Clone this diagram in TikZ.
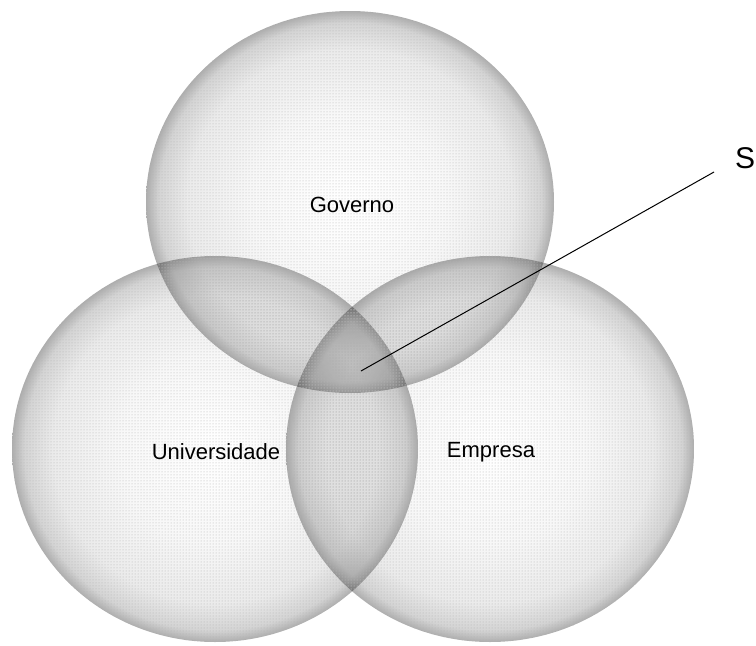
\documentclass[tikz,border=0pt]{standalone}
\usepackage{fontspec}
\setmainfont{Liberation Sans}
\usetikzlibrary{calc,patterns}
\pgfdeclareradialshading{stipple}{\pgfpoint{0bp}{0bp}}{color(0bp)=(white); color(12bp)=(black!3); color(20bp)=(black!8); color(23.5bp)=(black!17); color(25bp)=(black!32); color(50bp)=(black!32)}
\tikzset{
  sphere/.style={shading=stipple, blend mode=multiply},
  grain/.style={pattern=dots, pattern color=black!30},
  lab/.style={font=\fontsize{22}{26}\selectfont, inner sep=0pt}
}
\begin{document}
\begin{tikzpicture}[x=1pt,y=-1pt]
			%%%%% START %%%%%
			\useasboundingbox (0, 0) rectangle (756, 646);
			
			\shade[sphere] (350, 202) ellipse [x radius=204, y radius=191];
			\shade[sphere] (215, 449) ellipse [x radius=203, y radius=193];
			\shade[sphere] (490, 449) ellipse [x radius=204, y radius=193];
			
			\fill[grain] (350, 202) ellipse [x radius=204, y radius=191];
			\fill[grain] (215, 449) ellipse [x radius=203, y radius=193];
			\fill[grain] (490, 449) ellipse [x radius=204, y radius=193];
			
			\node[lab] (governo) at (352, 205) {Governo};
			\node[lab] (universidade) at (216, 452) {Universidade};
			\node[lab] (empresa) at (491, 452) {Empresa};
			
			\node[lab, font=\fontsize{30}{34}\selectfont] (s) at (745, 158) {S};
			\coordinate (triple) at (361, 371);
			\coordinate (sEnd) at (714, 172);
			\draw[line width=1pt] (triple) -- (sEnd);
			
			%%%%% END %%%%%
		\end{tikzpicture}
\end{document}
